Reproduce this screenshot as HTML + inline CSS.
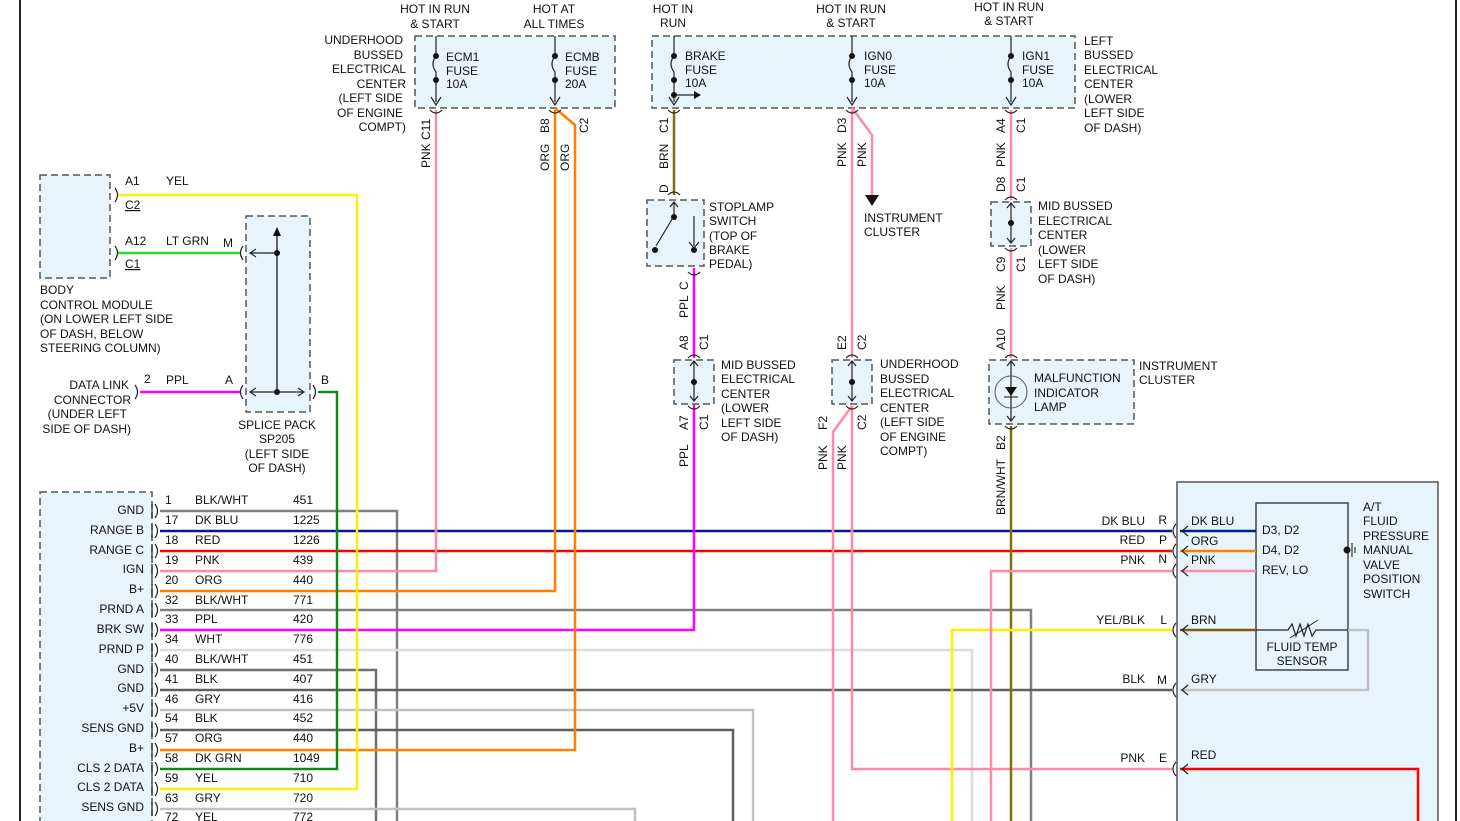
<!DOCTYPE html>
<html><head><meta charset="utf-8"><style>
html,body{margin:0;padding:0;background:#fff;}
svg{display:block;font-family:"Liberation Sans",Arial,sans-serif;font-size:12px;fill:#111;}
.b{fill:#e8f4fc;stroke:#555;stroke-width:1.5;stroke-dasharray:7,4;}
.w{fill:none;stroke-width:2.5;}
.k{fill:none;stroke:#222;stroke-width:1.2;}
</style></head><body>
<svg width="1460" height="821" viewBox="0 0 1460 821">
<line x1="20" y1="0" x2="20" y2="821" stroke="#222" stroke-width="2"/>
<line x1="1456" y1="0" x2="1456" y2="821" stroke="#222" stroke-width="2"/>

<!-- boxes -->
<rect class="b" x="415" y="36" width="200" height="72"/>
<rect class="b" x="652" y="36" width="423" height="72"/>
<rect class="b" x="40" y="175" width="70" height="103"/>
<rect class="b" x="246" y="216" width="64" height="196"/>
<rect class="b" x="647" y="200" width="57" height="66"/>
<rect class="b" x="674" y="360" width="40" height="44"/>
<rect class="b" x="832" y="360" width="40" height="44"/>
<rect class="b" x="991" y="202" width="40" height="44"/>
<rect class="b" x="989" y="360" width="145" height="64"/>
<rect class="b" x="40" y="492" width="112" height="340"/>
<rect x="1177" y="482" width="261" height="345" fill="#e8f4fc" stroke="#555" stroke-width="1.5"/>
<rect x="1256" y="503" width="92" height="167" fill="#e8f4fc" stroke="#444" stroke-width="1.5"/>

<!-- wires from PCM -->
<polyline class="w" stroke="#808080" points="160,511 397,511 397,821"/>
<polyline class="w" stroke="#001f8f" points="160,531 1172,531"/>
<polyline class="w" stroke="#ff0000" points="160,551 1172,551"/>
<polyline class="w" stroke="#ff8aa5" points="160,571 436,571 436,110"/>
<polyline class="w" stroke="#ff8000" points="160,591 555,591 555,110"/>
<polyline class="w" stroke="#808080" points="160,610 1031,610 1031,821"/>
<polyline class="w" stroke="#ff00ff" points="160,630 694,630 694,404"/>
<polyline class="w" stroke="#dcdcdc" points="160,650 972,650 972,821"/>
<polyline class="w" stroke="#707070" points="160,670 376,670 376,821"/>
<polyline class="w" stroke="#606060" points="160,690 1172,690"/>
<polyline class="w" stroke="#c0c0c0" points="160,710 753,710 753,821"/>
<polyline class="w" stroke="#606060" points="160,730 733,730 733,821"/>
<polyline class="w" stroke="#ff8000" points="160,750 575,750 575,125 555,108"/>
<polyline class="w" stroke="#128a12" points="160,769 337,769 337,392 318,392"/>
<polyline class="w" stroke="#ffee00" points="160,789 357,789 357,195 118,195"/>
<polyline class="w" stroke="#c0c0c0" points="160,809 635,809 635,821"/>
<polyline class="w" stroke="#ffee00" points="160,828 300,828"/>
<polyline class="w" stroke="#22dd22" points="118,253 240,253"/>
<polyline class="w" stroke="#ff00ff" points="140,392 240,392"/>

<!-- middle verticals -->
<polyline class="w" stroke="#8a6a10" points="674,110 674,195"/>
<polyline class="w" stroke="#ff00ff" points="694,268 694,358"/>
<polyline class="w" stroke="#ff8aa5" points="852,110 852,358"/>
<polyline class="w" stroke="#ff8aa5" points="852,108 872,135 872,195"/>
<polygon points="865,195 879,195 872,206" fill="#111"/>
<polyline class="w" stroke="#ff8aa5" points="852,406 852,769 1172,769"/>
<polyline class="w" stroke="#ff8aa5" points="852,406 833,432 833,821"/>
<polyline class="w" stroke="#ff8aa5" points="1011,110 1011,200"/>
<polyline class="w" stroke="#ff8aa5" points="1011,248 1011,358"/>
<polyline class="w" stroke="#8a6a10" points="1011,426 1011,821"/>
<polyline class="w" stroke="#ffee00" points="1172,630 952,630 952,821"/>
<polyline class="w" stroke="#ff8aa5" points="1172,571 991,571 991,821"/>

<!-- right component internal -->
<polyline class="w" stroke="#001f8f" points="1180,531 1256,531"/>
<polyline class="w" stroke="#ff8000" points="1180,551 1256,551"/>
<polyline class="w" stroke="#ff8aa5" points="1180,571 1256,571"/>
<polyline class="w" stroke="#7a5a10" points="1180,630 1256,630"/>
<polyline class="k" points="1256,630 1288,630 1292,624 1296,636 1300,624 1304,636 1308,624 1312,636 1316,630 1348,630"/>
<line x1="1290" y1="638" x2="1318" y2="620" stroke="#222" stroke-width="1"/>
<polyline class="w" stroke="#c0c0c0" points="1348,630 1368,630 1368,690 1180,690"/>
<polyline class="w" stroke="#ff0000" points="1180,769 1418,769 1418,821"/>
<circle cx="1347" cy="550" r="3.5" fill="#111"/>
<line x1="1352" y1="543" x2="1352" y2="557" stroke="#111"/>
<line x1="1355" y1="547" x2="1355" y2="553" stroke="#111"/>

<!-- connector marks right -->
<g class="k">
<path d="M1176,524 q-6,7 0,14 M1176,544 q-6,7 0,14 M1176,564 q-6,7 0,14 M1176,623 q-6,7 0,14 M1176,683 q-6,7 0,14 M1176,762 q-6,7 0,14"/>
<path d="M1188,526 l-6,5 6,5 M1188,546 l-6,5 6,5 M1188,566 l-6,5 6,5 M1188,625 l-6,5 6,5 M1188,685 l-6,5 6,5 M1188,764 l-6,5 6,5"/>
</g>
<!-- PCM connector marks -->
<g class="k">
<path d="M152,504 v14 M152,524 v14 M152,544 v14 M152,564 v14 M152,584 v14 M152,603 v14 M152,623 v14 M152,643 v14 M152,663 v14 M152,683 v14 M152,703 v14 M152,723 v14 M152,743 v14 M152,762 v14 M152,782 v14 M152,802 v14"/>
<path d="M155,504 q5,7 0,14 M155,524 q5,7 0,14 M155,544 q5,7 0,14 M155,564 q5,7 0,14 M155,584 q5,7 0,14 M155,603 q5,7 0,14 M155,623 q5,7 0,14 M155,643 q5,7 0,14 M155,663 q5,7 0,14 M155,683 q5,7 0,14 M155,703 q5,7 0,14 M155,723 q5,7 0,14 M155,743 q5,7 0,14 M155,762 q5,7 0,14 M155,782 q5,7 0,14 M155,802 q5,7 0,14"/>
<path d="M115,188 q5,7 0,14 M115,246 q5,7 0,14 M135,385 q5,7 0,14 M243,246 q-5,7 0,14 M243,385 q-5,7 0,14 M313,385 q5,7 0,14"/>
</g>
<!-- splice internals -->
<line x1="277" y1="232" x2="277" y2="392" stroke="#666" stroke-width="2"/>
<polygon points="273,236 281,236 277,227" fill="#111"/>
<circle cx="277" cy="253" r="3" fill="#111"/><circle cx="277" cy="392" r="3" fill="#111"/>
<polyline class="k" points="277,253 250,253"/><polyline class="k" points="256,249 250,253 256,257"/>
<polyline class="k" points="250,392 304,392"/><polyline class="k" points="256,388 250,392 256,396 M298,388 304,392 298,396"/>
<polyline class="k" points="298,388 304,392 298,396"/>

<!-- fuses -->
<g class="k">
<path d="M436,36 v20 m0,0 q-6,8 0,16 v30 M555,36 v20 q-6,8 0,16 v30 M674,36 v20 q-6,8 0,16 v30 M852,36 v20 q-6,8 0,16 v30 M1011,36 v20 q-6,8 0,16 v30"/>
<path d="M431,97 l5,8 5,-8 M550,97 l5,8 5,-8 M669,97 l5,8 5,-8 M847,97 l5,8 5,-8 M1006,97 l5,8 5,-8"/>
<path d="M430,110 q6,6 12,0 M549,110 q6,6 12,0 M668,110 q6,6 12,0 M846,110 q6,6 12,0 M1005,110 q6,6 12,0"/>
<path d="M674,95 h20"/>
</g>
<polygon points="694,91 701,95 694,99" fill="#111"/>
<g fill="#111"><circle cx="436" cy="56" r="3"/><circle cx="436" cy="80" r="3"/><circle cx="555" cy="56" r="3"/><circle cx="555" cy="80" r="3"/><circle cx="674" cy="56" r="3"/><circle cx="674" cy="80" r="3"/><circle cx="674" cy="95" r="3"/><circle cx="852" cy="56" r="3"/><circle cx="852" cy="80" r="3"/><circle cx="1011" cy="56" r="3"/><circle cx="1011" cy="80" r="3"/></g>

<!-- stoplamp internals -->
<g class="k">
<path d="M668,195 q6,-6 12,0 M688,272 q6,6 12,0 M674,202 v14 M670,207 l4,-5 4,5 M674,216 L656,246 M694,216 v30 M689,242 l5,6 5,-6"/>
<path d="M694,362 v38 M690,366 l4,-5 4,5 M690,396 l4,5 4,-5 M688,358 q6,-6 12,0 M688,406 q6,6 12,0"/>
<path d="M852,362 v38 M848,366 l4,-5 4,5 M848,396 l4,5 4,-5 M846,358 q6,-6 12,0 M846,406 q6,6 12,0"/>
<path d="M1011,204 v38 M1007,208 l4,-5 4,5 M1007,238 l4,5 4,-5 M1005,200 q6,-6 12,0 M1005,248 q6,6 12,0"/>
<path d="M1011,362 v58 M1007,366 l4,-5 4,5 M1007,416 l4,5 4,-5 M1005,358 q6,-6 12,0 M1005,426 q6,6 12,0"/>
</g>
<circle cx="674" cy="217" r="3" fill="#111"/><circle cx="655" cy="250" r="3" fill="#111"/><circle cx="694" cy="250" r="3" fill="#111"/>
<circle cx="694" cy="382" r="3" fill="#111"/><circle cx="852" cy="382" r="3" fill="#111"/><circle cx="1011" cy="223" r="3" fill="#111"/>
<circle cx="1011" cy="392" r="16" fill="none" stroke="#555"/>
<polygon points="1005,387 1017,387 1011,396" fill="#111"/><line x1="1004" y1="397" x2="1018" y2="397" stroke="#111"/>

<!-- top labels -->
<text x="435" y="13" text-anchor="middle">HOT IN RUN</text><text x="435" y="28" text-anchor="middle">&amp; START</text>
<text x="554" y="13" text-anchor="middle">HOT AT</text><text x="554" y="28" text-anchor="middle">ALL TIMES</text>
<text x="673" y="13" text-anchor="middle">HOT IN</text><text x="673" y="27" text-anchor="middle">RUN</text>
<text x="851" y="13" text-anchor="middle">HOT IN RUN</text><text x="851" y="27" text-anchor="middle">&amp; START</text>
<text x="1009" y="11" text-anchor="middle">HOT IN RUN</text><text x="1009" y="25" text-anchor="middle">&amp; START</text>
<g text-anchor="end"><text x="403" y="44">UNDERHOOD</text><text x="403" y="59">BUSSED</text><text x="406" y="73">ELECTRICAL</text><text x="406" y="88">CENTER</text><text x="403" y="102">(LEFT SIDE</text><text x="403" y="117">OF ENGINE</text><text x="406" y="131">COMPT)</text></g>
<text x="446" y="61">ECM1</text><text x="446" y="75">FUSE</text><text x="446" y="88">10A</text>
<text x="565" y="61">ECMB</text><text x="565" y="75">FUSE</text><text x="565" y="88">20A</text>
<text x="685" y="60">BRAKE</text><text x="685" y="74">FUSE</text><text x="685" y="87">10A</text>
<text x="864" y="60">IGN0</text><text x="864" y="74">FUSE</text><text x="864" y="87">10A</text>
<text x="1022" y="60">IGN1</text><text x="1022" y="74">FUSE</text><text x="1022" y="87">10A</text>
<text x="1084" y="45">LEFT</text><text x="1084" y="59">BUSSED</text><text x="1084" y="74">ELECTRICAL</text><text x="1084" y="88">CENTER</text><text x="1084" y="103">(LOWER</text><text x="1084" y="117">LEFT SIDE</text><text x="1084" y="132">OF DASH)</text>

<!-- vertical labels -->
<g>
<text transform="translate(430,168) rotate(-90)">PNK  C11</text>
<text transform="translate(549,171) rotate(-90)">ORG</text><text transform="translate(549,133) rotate(-90)">B8</text>
<text transform="translate(569,171) rotate(-90)">ORG</text><text transform="translate(588,133) rotate(-90)">C2</text>
<text transform="translate(668,133) rotate(-90)">C1</text><text transform="translate(668,169) rotate(-90)">BRN</text><text transform="translate(668,193) rotate(-90)">D</text>
<text transform="translate(846,133) rotate(-90)">D3</text><text transform="translate(846,167) rotate(-90)">PNK</text><text transform="translate(866,167) rotate(-90)">PNK</text>
<text transform="translate(1005,133) rotate(-90)">A4</text><text transform="translate(1025,133) rotate(-90)">C1</text><text transform="translate(1005,167) rotate(-90)">PNK</text>
<text transform="translate(1005,192) rotate(-90)">D8</text><text transform="translate(1025,192) rotate(-90)">C1</text>
<text transform="translate(1005,272) rotate(-90)">C9</text><text transform="translate(1025,272) rotate(-90)">C1</text><text transform="translate(1005,310) rotate(-90)">PNK</text>
<text transform="translate(1005,350) rotate(-90)">A10</text><text transform="translate(1005,450) rotate(-90)">B2</text><text transform="translate(1005,515) rotate(-90)">BRN/WHT</text>
<text transform="translate(688,290) rotate(-90)">C</text><text transform="translate(688,318) rotate(-90)">PPL</text>
<text transform="translate(688,350) rotate(-90)">A8</text><text transform="translate(708,350) rotate(-90)">C1</text>
<text transform="translate(688,430) rotate(-90)">A7</text><text transform="translate(708,430) rotate(-90)">C1</text><text transform="translate(688,467) rotate(-90)">PPL</text>
<text transform="translate(846,350) rotate(-90)">E2</text><text transform="translate(866,350) rotate(-90)">C2</text>
<text transform="translate(827,430) rotate(-90)">F2</text><text transform="translate(866,430) rotate(-90)">C2</text>
<text transform="translate(827,470) rotate(-90)">PNK</text><text transform="translate(846,470) rotate(-90)">PNK</text>
</g>

<text x="709" y="211">STOPLAMP</text><text x="709" y="225">SWITCH</text><text x="709" y="240">(TOP OF</text><text x="709" y="254">BRAKE</text><text x="709" y="268">PEDAL)</text>
<text x="864" y="222">INSTRUMENT</text><text x="864" y="236">CLUSTER</text>
<text x="1038" y="210">MID BUSSED</text><text x="1038" y="225">ELECTRICAL</text><text x="1038" y="239">CENTER</text><text x="1038" y="254">(LOWER</text><text x="1038" y="268">LEFT SIDE</text><text x="1038" y="283">OF DASH)</text>
<text x="721" y="369">MID BUSSED</text><text x="721" y="383">ELECTRICAL</text><text x="721" y="398">CENTER</text><text x="721" y="412">(LOWER</text><text x="721" y="427">LEFT SIDE</text><text x="721" y="441">OF DASH)</text>
<text x="880" y="368">UNDERHOOD</text><text x="880" y="383">BUSSED</text><text x="880" y="397">ELECTRICAL</text><text x="880" y="412">CENTER</text><text x="880" y="426">(LEFT SIDE</text><text x="880" y="441">OF ENGINE</text><text x="880" y="455">COMPT)</text>
<text x="1034" y="382">MALFUNCTION</text><text x="1034" y="397">INDICATOR</text><text x="1034" y="411">LAMP</text>
<text x="1139" y="370">INSTRUMENT</text><text x="1139" y="384">CLUSTER</text>

<!-- left labels -->
<text x="125" y="185">A1</text><text x="166" y="185">YEL</text><text x="125" y="209" text-decoration="underline">C2</text>
<text x="125" y="245">A12</text><text x="166" y="245">LT GRN</text><text x="223" y="247">M</text><text x="125" y="268" text-decoration="underline">C1</text>
<text x="40" y="294">BODY</text><text x="40" y="309">CONTROL MODULE</text><text x="40" y="323">(ON LOWER LEFT SIDE</text><text x="40" y="338">OF DASH, BELOW</text><text x="40" y="352">STEERING COLUMN)</text>
<text x="144" y="383">2</text><text x="166" y="384">PPL</text><text x="225" y="384">A</text><text x="321" y="384">B</text>
<g text-anchor="end"><text x="129" y="389">DATA LINK</text><text x="131" y="404">CONNECTOR</text><text x="127" y="418">(UNDER LEFT</text><text x="131" y="433">SIDE OF DASH)</text></g>
<g text-anchor="middle"><text x="277" y="429">SPLICE PACK</text><text x="277" y="443">SP205</text><text x="277" y="458">(LEFT SIDE</text><text x="277" y="472">OF DASH)</text></g>

<!-- PCM pin labels -->
<g text-anchor="end">
<text x="144" y="514">GND</text><text x="144" y="534">RANGE B</text><text x="144" y="554">RANGE C</text><text x="144" y="573">IGN</text><text x="144" y="593">B+</text><text x="144" y="613">PRND A</text><text x="144" y="633">BRK SW</text><text x="144" y="653">PRND P</text><text x="144" y="673">GND</text><text x="144" y="692">GND</text><text x="144" y="712">+5V</text><text x="144" y="732">SENS GND</text><text x="144" y="752">B+</text><text x="144" y="772">CLS 2 DATA</text><text x="144" y="791">CLS 2 DATA</text><text x="144" y="811">SENS GND</text>
</g>
<g>
<text x="165" y="504">1</text><text x="195" y="504">BLK/WHT</text><text x="293" y="504">451</text>
<text x="165" y="524">17</text><text x="195" y="524">DK BLU</text><text x="293" y="524">1225</text>
<text x="165" y="544">18</text><text x="195" y="544">RED</text><text x="293" y="544">1226</text>
<text x="165" y="564">19</text><text x="195" y="564">PNK</text><text x="293" y="564">439</text>
<text x="165" y="584">20</text><text x="195" y="584">ORG</text><text x="293" y="584">440</text>
<text x="165" y="604">32</text><text x="195" y="604">BLK/WHT</text><text x="293" y="604">771</text>
<text x="165" y="623">33</text><text x="195" y="623">PPL</text><text x="293" y="623">420</text>
<text x="165" y="643">34</text><text x="195" y="643">WHT</text><text x="293" y="643">776</text>
<text x="165" y="663">40</text><text x="195" y="663">BLK/WHT</text><text x="293" y="663">451</text>
<text x="165" y="683">41</text><text x="195" y="683">BLK</text><text x="293" y="683">407</text>
<text x="165" y="703">46</text><text x="195" y="703">GRY</text><text x="293" y="703">416</text>
<text x="165" y="722">54</text><text x="195" y="722">BLK</text><text x="293" y="722">452</text>
<text x="165" y="742">57</text><text x="195" y="742">ORG</text><text x="293" y="742">440</text>
<text x="165" y="762">58</text><text x="195" y="762">DK GRN</text><text x="293" y="762">1049</text>
<text x="165" y="782">59</text><text x="195" y="782">YEL</text><text x="293" y="782">710</text>
<text x="165" y="802">63</text><text x="195" y="802">GRY</text><text x="293" y="802">720</text>
<text x="165" y="821">72</text><text x="195" y="821">YEL</text><text x="293" y="821">772</text>
</g>

<!-- right labels -->
<g text-anchor="end">
<text x="1145" y="525">DK BLU</text><text x="1145" y="544">RED</text><text x="1145" y="564">PNK</text><text x="1145" y="624">YEL/BLK</text><text x="1145" y="683">BLK</text><text x="1145" y="762">PNK</text>
<text x="1167" y="524">R</text><text x="1167" y="544">P</text><text x="1167" y="563">N</text><text x="1167" y="624">L</text><text x="1167" y="684">M</text><text x="1167" y="762">E</text>
</g>
<text x="1191" y="525">DK BLU</text><text x="1191" y="545">ORG</text><text x="1191" y="564">PNK</text><text x="1191" y="624">BRN</text><text x="1191" y="683">GRY</text><text x="1191" y="759">RED</text>
<text x="1262" y="534">D3, D2</text><text x="1262" y="554">D4, D2</text><text x="1262" y="574">REV, LO</text>
<g text-anchor="middle"><text x="1302" y="651">FLUID TEMP</text><text x="1302" y="665">SENSOR</text></g>
<text x="1363" y="511">A/T</text><text x="1363" y="525">FLUID</text><text x="1363" y="540">PRESSURE</text><text x="1363" y="554">MANUAL</text><text x="1363" y="569">VALVE</text><text x="1363" y="583">POSITION</text><text x="1363" y="598">SWITCH</text>
</svg>
</body></html>
